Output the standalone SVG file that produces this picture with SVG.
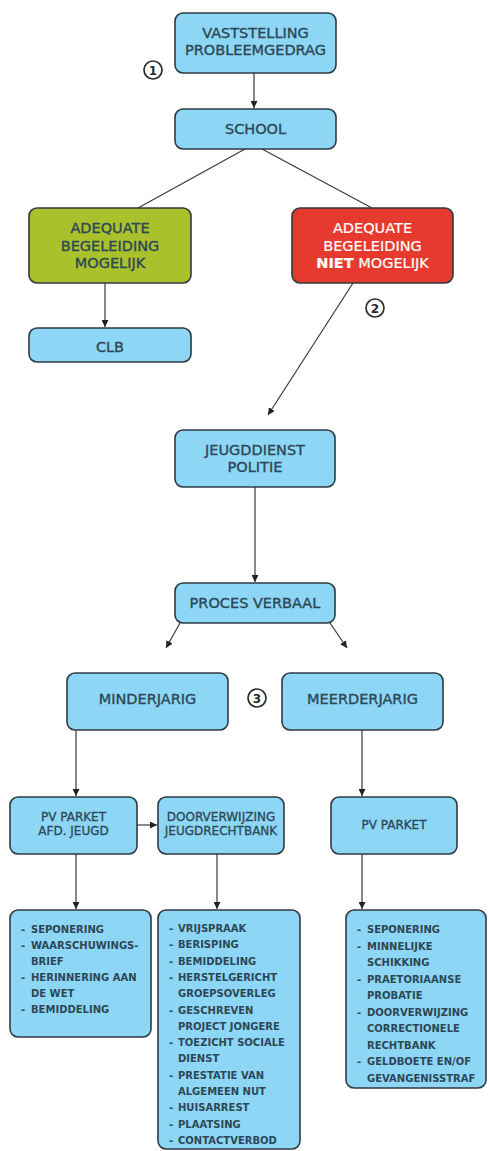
<svg xmlns="http://www.w3.org/2000/svg" width="489" height="1151" viewBox="0 0 489 1151">
<defs>
<style>
.b{fill:#8ed6f5;stroke:#2f3b40;stroke-width:1.6}
.t{font-family:"DejaVu Sans",Verdana,sans-serif;font-size:14.5px;fill:#2c4756;stroke:#2c4756;stroke-width:0.35;text-anchor:middle}
.s{font-family:"DejaVu Sans",Verdana,sans-serif;font-size:12px;fill:#2c4756;stroke:#2c4756;stroke-width:0.3;text-anchor:middle}
.l{font-family:"DejaVu Sans",Verdana,sans-serif;font-size:10px;font-weight:bold;fill:#2c4756}
.c{fill:#fff;stroke:#2a2a2a;stroke-width:1.7}
.n{font-family:"DejaVu Sans",Verdana,sans-serif;font-size:12px;font-weight:bold;fill:#2a2a2a;text-anchor:middle}
.e{stroke:#3a3a3a;stroke-width:1.2;fill:none}
</style>
<marker id="a" viewBox="0 0 10 10" refX="10" refY="5" markerWidth="7" markerHeight="7" orient="auto" markerUnits="userSpaceOnUse">
<path d="M0,0L10,5L0,10z" fill="#222"/>
</marker>
</defs>
<rect width="489" height="1151" fill="#fff"/>
<g id="connectors">
<line class="e" x1="254" y1="73" x2="254" y2="108" marker-end="url(#a)"/>
<line class="e" x1="245" y1="149" x2="138" y2="208"/>
<line class="e" x1="262" y1="149" x2="372" y2="208"/>
<line class="e" x1="105" y1="283" x2="105" y2="327" marker-end="url(#a)"/>
<line class="e" x1="353" y1="283" x2="268" y2="415" marker-end="url(#a)"/>
<line class="e" x1="255" y1="487" x2="255" y2="582" marker-end="url(#a)"/>
<line class="e" x1="180" y1="623" x2="166" y2="648" marker-end="url(#a)"/>
<line class="e" x1="330" y1="623" x2="347" y2="648" marker-end="url(#a)"/>
<line class="e" x1="76" y1="730" x2="76" y2="796" marker-end="url(#a)"/>
<line class="e" x1="362" y1="730" x2="362" y2="796" marker-end="url(#a)"/>
<line class="e" x1="137" y1="825" x2="157" y2="825" marker-end="url(#a)"/>
<line class="e" x1="76" y1="854" x2="76" y2="909" marker-end="url(#a)"/>
<line class="e" x1="217" y1="854" x2="217" y2="909" marker-end="url(#a)"/>
<line class="e" x1="362" y1="854" x2="362" y2="909" marker-end="url(#a)"/>
</g>
<g id="n1"><rect class="b" x="175" y="13" width="161" height="60" rx="8"/>
<text class="t" x="255.5" y="38">VASTSTELLING</text><text class="t" x="255.5" y="55">PROBLEEMGEDRAG</text></g>
<g id="m1"><circle class="c" cx="153" cy="70" r="9"/><text class="n" x="153" y="74.5">1</text></g>
<g id="n2"><rect class="b" x="175" y="109" width="161" height="40" rx="8"/>
<text class="t" x="255.5" y="134">SCHOOL</text></g>
<g id="n3"><rect x="29" y="208" width="162" height="75" rx="8" fill="#a9c12b" stroke="#2f3b40" stroke-width="1.6"/>
<text class="t" x="110" y="233">ADEQUATE</text><text class="t" x="110" y="251">BEGELEIDING</text><text class="t" x="110" y="268">MOGELIJK</text></g>
<g id="n4"><rect x="292" y="208" width="161" height="75" rx="8" fill="#e63a2e" stroke="#2f3b40" stroke-width="1.6"/>
<text class="t" x="372.5" y="233" style="fill:#fff;stroke:#fff;stroke-width:0.2">ADEQUATE</text><text class="t" x="372.5" y="251" style="fill:#fff;stroke:#fff;stroke-width:0.2">BEGELEIDING</text><text class="t" x="372.5" y="268" style="fill:#fff;stroke:#fff;stroke-width:0.2"><tspan font-weight="bold">NIET</tspan> MOGELIJK</text></g>
<g id="m2"><circle class="c" cx="375" cy="308" r="9"/><text class="n" x="375" y="312.5">2</text></g>
<g id="n5"><rect class="b" x="29" y="328" width="162" height="34" rx="8"/>
<text class="t" x="110" y="352">CLB</text></g>
<g id="n6"><rect class="b" x="175" y="430" width="160" height="57" rx="8"/>
<text class="t" x="255" y="455">JEUGDDIENST</text><text class="t" x="255" y="472">POLITIE</text></g>
<g id="n7"><rect class="b" x="175" y="583" width="160" height="40" rx="8"/>
<text class="t" x="255" y="608">PROCES VERBAAL</text></g>
<g id="n8"><rect class="b" x="67" y="673" width="161" height="57" rx="8"/>
<text class="t" x="147.5" y="704">MINDERJARIG</text></g>
<g id="m3"><circle class="c" cx="257" cy="698" r="9"/><text class="n" x="257" y="702.5">3</text></g>
<g id="n9"><rect class="b" x="282" y="673" width="161" height="57" rx="8"/>
<text class="t" x="362.5" y="704">MEERDERJARIG</text></g>
<g id="n10"><rect class="b" x="10" y="797" width="127" height="57" rx="8"/>
<text class="s" x="73.5" y="821">PV PARKET</text><text class="s" x="73.5" y="835">AFD. JEUGD</text></g>
<g id="n11"><rect class="b" x="158" y="797" width="126" height="57" rx="8"/>
<text class="s" x="221" y="821">DOORVERWIJZING</text><text class="s" x="221" y="835">JEUGDRECHTBANK</text></g>
<g id="n12"><rect class="b" x="331" y="797" width="126" height="57" rx="8"/>
<text class="s" x="394" y="829">PV PARKET</text></g>
<g id="n13"><rect class="b" x="10" y="910" width="141" height="127" rx="8"/>
<text class="l" y="933"><tspan x="21">-</tspan><tspan x="31">SEPONERING</tspan></text>
<text class="l" y="949"><tspan x="21">-</tspan><tspan x="31">WAARSCHUWINGS-</tspan></text>
<text class="l" x="31" y="965">BRIEF</text>
<text class="l" y="981"><tspan x="21">-</tspan><tspan x="31">HERINNERING AAN</tspan></text>
<text class="l" x="31" y="997">DE WET</text>
<text class="l" y="1013"><tspan x="21">-</tspan><tspan x="31">BEMIDDELING</tspan></text></g>
<g id="n14"><rect class="b" x="158" y="910" width="142" height="239" rx="8"/>
<text class="l" y="932"><tspan x="169">-</tspan><tspan x="178">VRIJSPRAAK</tspan></text>
<text class="l" y="948"><tspan x="169">-</tspan><tspan x="178">BERISPING</tspan></text>
<text class="l" y="964.5"><tspan x="169">-</tspan><tspan x="178">BEMIDDELING</tspan></text>
<text class="l" y="981"><tspan x="169">-</tspan><tspan x="178">HERSTELGERICHT</tspan></text>
<text class="l" x="178" y="997">GROEPSOVERLEG</text>
<text class="l" y="1013.5"><tspan x="169">-</tspan><tspan x="178">GESCHREVEN</tspan></text>
<text class="l" x="178" y="1030">PROJECT JONGERE</text>
<text class="l" y="1046"><tspan x="169">-</tspan><tspan x="178">TOEZICHT SOCIALE</tspan></text>
<text class="l" x="178" y="1062">DIENST</text>
<text class="l" y="1078.5"><tspan x="169">-</tspan><tspan x="178">PRESTATIE VAN</tspan></text>
<text class="l" x="178" y="1095">ALGEMEEN NUT</text>
<text class="l" y="1111"><tspan x="169">-</tspan><tspan x="178">HUISARREST</tspan></text>
<text class="l" y="1127.5"><tspan x="169">-</tspan><tspan x="178">PLAATSING</tspan></text>
<text class="l" y="1144"><tspan x="169">-</tspan><tspan x="178">CONTACTVERBOD</tspan></text></g>
<g id="n15"><rect class="b" x="346" y="910" width="140" height="178" rx="8"/>
<text class="l" y="933"><tspan x="357">-</tspan><tspan x="367">SEPONERING</tspan></text>
<text class="l" y="949.5"><tspan x="357">-</tspan><tspan x="367">MINNELIJKE</tspan></text>
<text class="l" x="367" y="966">SCHIKKING</text>
<text class="l" y="982.5"><tspan x="357">-</tspan><tspan x="367">PRAETORIAANSE</tspan></text>
<text class="l" x="367" y="999">PROBATIE</text>
<text class="l" y="1015.5"><tspan x="357">-</tspan><tspan x="367">DOORVERWIJZING</tspan></text>
<text class="l" x="367" y="1032">CORRECTIONELE</text>
<text class="l" x="367" y="1048.5">RECHTBANK</text>
<text class="l" y="1065"><tspan x="357">-</tspan><tspan x="367">GELDBOETE EN/OF</tspan></text>
<text class="l" x="367" y="1081.5">GEVANGENISSTRAF</text></g>
</svg>
